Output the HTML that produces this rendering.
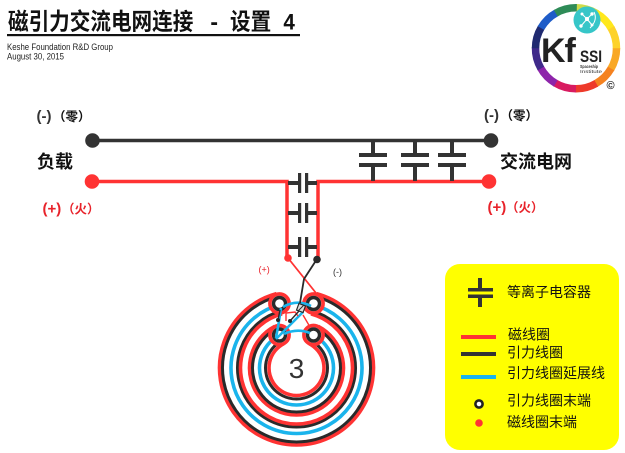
<!DOCTYPE html>
<html><head><meta charset="utf-8">
<style>
html,body{margin:0;padding:0;background:#fff;}
svg{display:block;}
</style></head>
<body>
<svg width="625" height="453" viewBox="0 0 625 453" xmlns="http://www.w3.org/2000/svg" font-family="'Liberation Sans','Noto Sans CJK SC',sans-serif">
<rect width="625" height="453" fill="#fff"/>

<!-- Title -->
<g transform="translate(8,29.5) scale(1,1.12)" font-family="'Noto Sans CJK SC','WenQuanYi Zen Hei',sans-serif" font-weight="bold" font-size="20.6" fill="#111">
  <text x="0" y="0">磁引力交流电网连接</text>
  <text x="200" y="0" font-family="'Liberation Mono',monospace">-</text>
  <text x="222" y="0">设置</text>
  <text x="275" y="0" font-family="'Liberation Mono',monospace">4</text>
</g>
<rect x="7" y="34" width="293" height="2.2" fill="#111"/>
<text x="7" y="50" font-size="9" fill="#222" textLength="106" lengthAdjust="spacingAndGlyphs">Keshe Foundation R&amp;D Group</text>
<text x="7" y="59.5" font-size="9" fill="#222" textLength="57" lengthAdjust="spacingAndGlyphs">August 30, 2015</text>

<!-- Logo -->
<g>
  <circle cx="576" cy="48.3" r="44" fill="#fff"/>
  <g fill="none" stroke-width="7.5">
    <circle cx="576" cy="48.3" r="40.5" stroke="#cfdc4a" stroke-dasharray="22 233" transform="rotate(-90 576 48.3)"/>
    <circle cx="576" cy="48.3" r="40.5" stroke="#ffe81c" stroke-dasharray="22 233" transform="rotate(-60 576 48.3)"/>
    <circle cx="576" cy="48.3" r="40.5" stroke="#fdd22a" stroke-dasharray="22 233" transform="rotate(-30 576 48.3)"/>
    <circle cx="576" cy="48.3" r="40.5" stroke="#f9a825" stroke-dasharray="22 233" transform="rotate(0 576 48.3)"/>
    <circle cx="576" cy="48.3" r="40.5" stroke="#f5821f" stroke-dasharray="22 233" transform="rotate(30 576 48.3)"/>
    <circle cx="576" cy="48.3" r="40.5" stroke="#ee3a2a" stroke-dasharray="22 233" transform="rotate(60 576 48.3)"/>
    <circle cx="576" cy="48.3" r="40.5" stroke="#d81b60" stroke-dasharray="22 233" transform="rotate(90 576 48.3)"/>
    <circle cx="576" cy="48.3" r="40.5" stroke="#8e24aa" stroke-dasharray="22 233" transform="rotate(120 576 48.3)"/>
    <circle cx="576" cy="48.3" r="40.5" stroke="#3f2a8a" stroke-dasharray="22 233" transform="rotate(150 576 48.3)"/>
    <circle cx="576" cy="48.3" r="40.5" stroke="#1f2a70" stroke-dasharray="22 233" transform="rotate(180 576 48.3)"/>
    <circle cx="576" cy="48.3" r="40.5" stroke="#1e5cc8" stroke-dasharray="22 233" transform="rotate(210 576 48.3)"/>
    <circle cx="576" cy="48.3" r="40.5" stroke="#2e8b57" stroke-dasharray="22 233" transform="rotate(240 576 48.3)"/>
  </g>
  <circle cx="587" cy="20" r="13.5" fill="#36c6c8"/>
  <g stroke="#fff" stroke-width="1" fill="#fff">
    <line x1="581" y1="26" x2="587" y2="19"/>
    <line x1="587" y1="19" x2="592" y2="14"/>
    <line x1="587" y1="19" x2="582" y2="14"/>
    <line x1="587" y1="19" x2="592" y2="25"/>
    <circle cx="587" cy="19" r="1.6"/>
    <circle cx="581" cy="26" r="1.2"/>
    <circle cx="592" cy="14" r="1.2"/>
    <circle cx="582" cy="14" r="1"/>
    <circle cx="592" cy="25" r="1"/>
    <path d="M594 12 Q598 20 590 28" fill="none"/>
  </g>
  <text x="541" y="62" font-size="34" font-weight="bold" fill="#222" letter-spacing="-1">Kf</text>
  <text x="580" y="62" font-size="17" font-weight="bold" fill="#222" textLength="22" lengthAdjust="spacingAndGlyphs">SSI</text>
  <text x="580" y="68" font-size="4.5" font-weight="bold" fill="#333" textLength="18" lengthAdjust="spacingAndGlyphs">Spaceship</text>
  <text x="580" y="73" font-size="4.5" fill="#333" textLength="22" lengthAdjust="spacingAndGlyphs">Institute</text>
  <text x="606.5" y="89" font-size="11" font-weight="bold" fill="#222">©</text>
</g>

<!-- Main lines -->
<line x1="92" y1="140.5" x2="491" y2="140.5" stroke="#333" stroke-width="3.5"/>
<polyline points="92,181.5 287,181.5 287,258" fill="none" stroke="#f33" stroke-width="3.5"/>
<polyline points="489,181.5 318,181.5 318,259" fill="none" stroke="#f33" stroke-width="3.5"/>

<!-- Top capacitors -->
<g fill="#333">
  <rect x="371" y="140" width="4" height="15"/><rect x="371" y="165" width="4" height="16"/>
  <rect x="359" y="153" width="28" height="4"/><rect x="359" y="163" width="28" height="4"/>
  <rect x="413" y="140" width="4" height="15"/><rect x="413" y="165" width="4" height="16"/>
  <rect x="401" y="153" width="28" height="4"/><rect x="401" y="163" width="28" height="4"/>
  <rect x="450" y="140" width="4" height="15"/><rect x="450" y="165" width="4" height="16"/>
  <rect x="438" y="153" width="28" height="4"/><rect x="438" y="163" width="28" height="4"/>
</g>

<!-- Branch capacitors -->
<g fill="#333">
  <rect x="288" y="181" width="11" height="4"/><rect x="298" y="173" width="3.2" height="20"/>
  <rect x="305" y="173" width="3.2" height="20"/><rect x="307" y="181" width="10" height="4"/>
  <rect x="288" y="211" width="11" height="4"/><rect x="298" y="203" width="3.2" height="20"/>
  <rect x="305" y="203" width="3.2" height="20"/><rect x="307" y="211" width="10" height="4"/>
  <rect x="288" y="245" width="11" height="4"/><rect x="298" y="237" width="3.2" height="20"/>
  <rect x="305" y="237" width="3.2" height="20"/><rect x="307" y="245" width="10" height="4"/>
</g>

<!-- Terminal dots -->
<circle cx="92.5" cy="140.5" r="7.3" fill="#333"/>
<circle cx="92" cy="181.5" r="7.3" fill="#f33"/>
<circle cx="491" cy="140.5" r="7.3" fill="#333"/>
<circle cx="489" cy="181.5" r="7.3" fill="#f33"/>

<!-- Labels -->
<g font-weight="bold">
  <text x="36.5" y="121" font-size="15" fill="#333">(-)</text>
  <text x="53" y="121" font-size="12.5" fill="#111" font-family="'Noto Sans CJK SC',sans-serif">（零）</text>
  <text x="37" y="168" font-size="18" fill="#111" font-family="'Noto Sans CJK SC',sans-serif">负载</text>
  <text x="42.5" y="213.5" font-size="15" fill="#e8222a">(+)</text>
  <text x="62" y="213.5" font-size="12.5" fill="#e8222a" font-family="'Noto Sans CJK SC',sans-serif">（火）</text>

  <text x="484" y="120" font-size="15" fill="#333">(-)</text>
  <text x="500.5" y="120" font-size="12.5" fill="#111" font-family="'Noto Sans CJK SC',sans-serif">（零）</text>
  <text x="500" y="168" font-size="18" fill="#111" font-family="'Noto Sans CJK SC',sans-serif">交流电网</text>
  <text x="487.5" y="212" font-size="15" fill="#e8222a">(+)</text>
  <text x="506" y="212" font-size="12.5" fill="#e8222a" font-family="'Noto Sans CJK SC',sans-serif">（火）</text>
</g>
<text x="258.5" y="272.5" font-size="9" fill="#e8222a">(+)</text>
<text x="333" y="275" font-size="9" fill="#333">(-)</text>

<!-- Coils -->
<g fill="none">
  <path d="M316.43,293.62 A77,77 0 1 1 276.57,293.62" stroke="#f33" stroke-width="3.6"/>
  <path d="M315.65,296.52 A74,74 0 1 1 277.35,296.52" stroke="#2a2a2a" stroke-width="3"/>
  <path d="M313.45,304.73 A65.5,65.5 0 1 1 279.55,304.73" stroke="#1ab4ec" stroke-width="3.6"/>
  <path d="M311.77,311.01 A59,59 0 1 1 281.23,311.01" stroke="#2a2a2a" stroke-width="3"/>
  <path d="M310.99,313.91 A56,56 0 1 1 282.01,313.91" stroke="#f33" stroke-width="3.6"/>
  <path d="M318.2,326.31 A47,47 0 1 1 274.8,326.31" stroke="#f33" stroke-width="3.6"/>
  <path d="M316.81,328.97 A44,44 0 1 1 276.19,328.97" stroke="#2a2a2a" stroke-width="3"/>
  <path d="M313.58,335.18 A37,37 0 1 1 279.42,335.18" stroke="#1ab4ec" stroke-width="3.6"/>
  <path d="M310.81,340.5 A31,31 0 1 1 282.19,340.5" stroke="#2a2a2a" stroke-width="3"/>
  <path d="M309.2,343.61 A27.5,27.5 0 1 1 283.8,343.61" stroke="#f33" stroke-width="3.6"/>
</g>

<!-- holes -->
<g>
  <circle cx="279.5" cy="303.5" r="9.6" fill="#fff" stroke="#f33" stroke-width="3.6"/>
  <circle cx="279.5" cy="303.5" r="6" fill="#fff" stroke="#2a2a2a" stroke-width="3.4"/>
  <circle cx="313.5" cy="303.5" r="9.6" fill="#fff" stroke="#f33" stroke-width="3.6"/>
  <circle cx="313.5" cy="303.5" r="6" fill="#fff" stroke="#2a2a2a" stroke-width="3.4"/>
  <circle cx="279.5" cy="335" r="9.6" fill="#fff" stroke="#f33" stroke-width="3.6"/>
  <circle cx="279.5" cy="335" r="6" fill="#fff" stroke="#2a2a2a" stroke-width="3.4"/>
  <circle cx="313.5" cy="335" r="9.6" fill="#fff" stroke="#f33" stroke-width="3.6"/>
  <circle cx="313.5" cy="335" r="6" fill="#fff" stroke="#2a2a2a" stroke-width="3.4"/>
</g>

<!-- blue connectors -->
<g fill="none" stroke="#1ab4ec" stroke-width="2.6">
  <path d="M283,307 Q297,299 311,306"/>
  <path d="M281,308 Q279,322 276,338"/>
  <path d="M276,339 L303,312"/>
  <path d="M284,334 Q297,328 310,333"/>
</g>

<!-- wires -->
<g fill="none">
  <path d="M288,258 L316,293" stroke="#f33" stroke-width="1.8"/>
  <path d="M317,259 L304,279 L300,303" stroke="#2a2a2a" stroke-width="1.8"/>
  <path d="M286,321 L286,313 L295,312 L298,316" stroke="#f33" stroke-width="1.4"/>
  <path d="M303,315 L310,327" stroke="#f33" stroke-width="1.4"/>
  <path d="M299,311 L290,321" stroke="#2a2a2a" stroke-width="1.4"/>
  <path d="M280,310 L278,320" stroke="#2a2a2a" stroke-width="1.4"/>
  <rect x="297.5" y="304.5" width="7" height="7" stroke="#2a2a2a" stroke-width="1.2" fill="#ddd" transform="rotate(20 301 308)"/>
  <path d="M298,311 L304,305" stroke="#2a2a2a" stroke-width="1"/>
</g>
<circle cx="288" cy="258" r="3.8" fill="#f33"/>
<circle cx="317" cy="259.5" r="3.8" fill="#2a2a2a"/>
<circle cx="290" cy="321" r="2" fill="#2a2a2a"/>
<circle cx="278" cy="320" r="2" fill="#2a2a2a"/>

<text x="296.5" y="378" font-size="28" fill="#333" text-anchor="middle">3</text>

<!-- Legend -->
<rect x="445" y="264" width="174" height="186" rx="15" fill="#ffff00"/>
<g fill="#333">
  <rect x="478" y="278" width="4" height="11"/>
  <rect x="468" y="288" width="25" height="3.5"/>
  <rect x="468" y="294.5" width="25" height="3.5"/>
  <rect x="478" y="297" width="4" height="10"/>
</g>
<rect x="461" y="335" width="35" height="4" fill="#f33"/>
<rect x="461" y="352" width="35" height="4" fill="#333"/>
<rect x="461" y="375" width="35" height="4" fill="#1ab4ec"/>
<circle cx="479" cy="404" r="3.6" fill="#fff" stroke="#222" stroke-width="2.6"/>
<circle cx="479" cy="423" r="3.8" fill="#f33"/>
<g font-family="'WenQuanYi Zen Hei','Noto Sans CJK SC',sans-serif" font-size="14" fill="#111">
  <text x="507" y="297">等离子电容器</text>
  <text x="508" y="339.5">磁线圈</text>
  <text x="507" y="357.5">引力线圈</text>
  <text x="507" y="378">引力线圈延展线</text>
  <text x="507" y="405.5">引力线圈末端</text>
  <text x="507" y="427">磁线圈末端</text>
</g>
</svg>
</body></html>
